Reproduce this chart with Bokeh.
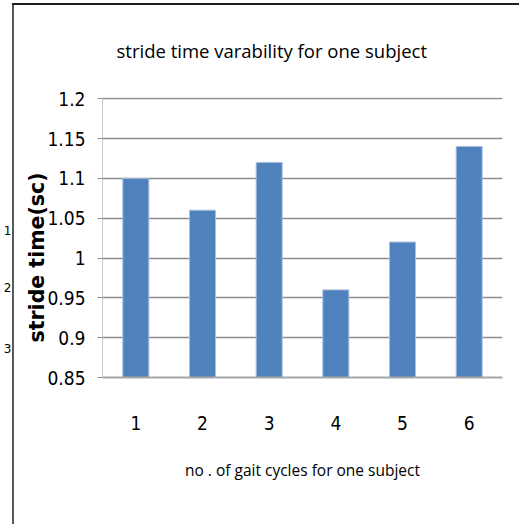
from bokeh.plotting import figure
from bokeh.models import FactorRange, Range1d, FixedTicker, LinearAxis, Title
from bokeh.embed import file_html
from bokeh.resources import INLINE

# data
cycles = ["1", "2", "3", "4", "5", "6"]
stride_time = [1.10, 1.06, 1.12, 0.96, 1.02, 1.14]
y_ticks = [0.85, 0.9, 0.95, 1.0, 1.05, 1.1, 1.15, 1.2]
y_tick_labels = ["0.85", "0.9", "0.95", "1", "1.05", "1.1", "1.15", "1.2"]
side_numbers = ["1", "2", "3"]
side_number_rows = [229, 287, 348]  # page rows of the stray margin numbers

NARROW = "DejaVu Sans Condensed"
TITLE_FONT = "Open Sans"

p = figure(
    width=519, height=524,
    x_range=FactorRange(*cycles, range_padding=0),
    y_range=Range1d(0.85, 1.2015),
    output_backend="svg", toolbar_location=None,
    min_border_left=101, min_border_right=17,
    min_border_top=96, min_border_bottom=147,
    title="stride time varability for one subject",
)
p.outline_line_color = None
p.background_fill_color = "white"
p.border_fill_color = None
p.styles = {
    "background-color": "white",
    "background-image": "linear-gradient(#1e1e1e, #1e1e1e), linear-gradient(#5a5a5a, #5a5a5a)",
    "background-size": "510px 2px, 2px 524px",
    "background-position": "12px 3px, 12px 3px",
    "background-repeat": "no-repeat",
}

p.vbar(x=cycles, top=stride_time, bottom=0.85, width=0.39,
       fill_color="#4F81BD", line_color="#A7BFDE", line_width=1)

# title
p.title.text_font = TITLE_FONT
p.title.text_font_size = "18.5px"
p.title.text_font_style = "normal"
p.title.text_color = "#000000"
p.title.align = "left"
p.title.offset = 14
p.title.standoff = 70

# y axis
yax = p.yaxis[0]
yax.ticker = FixedTicker(ticks=y_ticks)
yax.major_label_overrides = {t: l for t, l in zip(y_ticks, y_tick_labels)}
yax.major_label_text_font = NARROW
yax.major_label_text_font_size = "19px"
yax.major_label_text_color = "#000000"
yax.major_label_standoff = 12
yax.major_tick_out = 5
yax.major_tick_in = 0
yax.minor_tick_line_color = None
yax.major_tick_line_color = "#8c8c8c"
yax.axis_line_color = "#c8c8c8"

# y axis title (a left-side title so it can sit below the frame centre)
p.add_layout(Title(text="stride time(sc)", align="left", offset=35, standoff=-8,
                   text_font="DejaVu Sans", text_font_style="bold",
                   text_font_size="20.5px", text_color="#000000"), "left")

# stray margin numbers, as an outer axis with page-row coordinates
p.extra_y_ranges = {"page": Range1d(start=377, end=96)}
side_ax = LinearAxis(y_range_name="page",
                     ticker=FixedTicker(ticks=side_number_rows),
                     major_label_overrides={r: t for r, t in zip(side_number_rows, side_numbers)})
side_ax.axis_line_color = None
side_ax.major_tick_line_color = None
side_ax.minor_tick_line_color = None
side_ax.major_tick_out = 0
side_ax.major_label_standoff = 15
side_ax.major_label_text_font = "DejaVu Sans"
side_ax.major_label_text_font_size = "12px"
side_ax.major_label_text_color = "#000000"
p.add_layout(side_ax, "left")

# x axis
xax = p.xaxis[0]
xax.major_label_text_font = NARROW
xax.major_label_text_font_size = "19px"
xax.major_label_text_color = "#000000"
xax.major_label_standoff = 32
xax.major_tick_line_color = None
xax.axis_line_color = "#a6a6a6"
xax.axis_line_width = 2
xax.axis_label = "no . of gait cycles for one subject"
xax.axis_label_text_font = TITLE_FONT
xax.axis_label_text_font_size = "15.5px"
xax.axis_label_text_font_style = "normal"
xax.axis_label_text_color = "#000000"
xax.axis_label_standoff = 26

p.xgrid.grid_line_color = None
p.ygrid.ticker = FixedTicker(ticks=y_ticks)
p.ygrid.grid_line_color = "#8c8c8c"
p.ygrid.grid_line_width = 1.5

open("out.html", "w").write(file_html(p, INLINE))
